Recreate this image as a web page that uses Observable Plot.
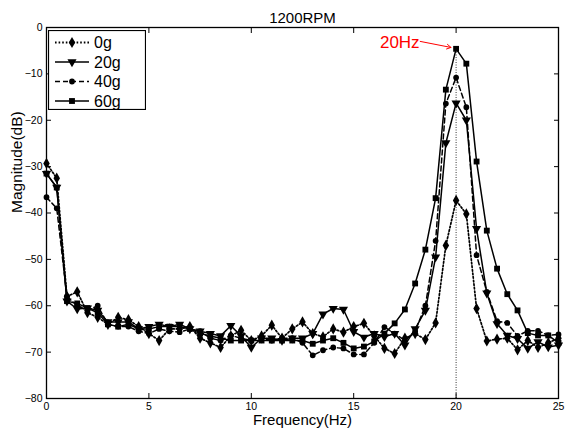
<!DOCTYPE html>
<html><head><meta charset="utf-8">
<script src="https://cdn.jsdelivr.net/npm/d3@7"></script>
<script src="https://cdn.jsdelivr.net/npm/@observablehq/plot@0.6"></script>
<style>
body{margin:0;background:#fff;font-family:Arial,"Liberation Sans",sans-serif;}
#wrap{position:relative;width:579px;height:434px;}
#legend{position:absolute;left:48px;top:30px;}
</style></head><body><div id="wrap"><div id="chart"></div><div id="legend"></div></div>
<script>
const title = "1200RPM";
const xLabel = "Frequency(Hz)";
const yLabel = "Magnitude(dB)";
const xTicks = [0, 5, 10, 15, 20, 25];
const yTicks = [-80, -70, -60, -50, -40, -30, -20, -10, 0];
const seriesNames = ["0g", "20g", "40g", "60g"];
const freq = [0,0.5,1,1.5,2,2.5,3,3.5,4,4.5,5,5.5,6,6.5,7,7.5,8,8.5,9,9.5,10,10.5,11,11.5,12,12.5,13,13.5,14,14.5,15,15.5,16,16.5,17,17.5,18,18.5,19,19.5,20,20.5,21,21.5,22,22.5,23,23.5,24,24.5,25];
const mag0g = [-29.3,-32.5,-58,-57,-61.5,-62.5,-64,-62.5,-63,-64.5,-66,-67.5,-65,-65,-64.5,-67,-68,-69,-66.5,-65.3,-67.5,-66.5,-64.2,-67,-65,-63.5,-66,-66.7,-65,-65.7,-64.5,-63.8,-66.5,-69.2,-70.3,-67,-66,-67.3,-63.7,-47,-37.3,-40.2,-60.6,-67.6,-67.2,-67,-69.5,-67.5,-69,-68,-67];
const mag20g = [-31.5,-34.5,-59,-60.7,-60.5,-61,-63.5,-63.5,-63.5,-65,-64.5,-64,-64.5,-64,-65,-65.5,-66,-66.5,-64.3,-66.5,-69,-67,-67,-67.5,-67,-67,-66,-61.8,-60.6,-60.8,-65.6,-66.8,-66,-66.7,-66,-68.5,-65,-61,-49.5,-24.9,-16.3,-20,-43.4,-57.3,-63.9,-66.4,-67.1,-69.2,-67.8,-68.9,-68.5];
const mag40g = [-36.6,-39,-58,-60,-61,-60,-64,-64.5,-64.5,-65.5,-66,-65,-65.5,-65.7,-65,-65.5,-67,-67.5,-66.4,-67,-67.5,-67,-67.5,-67,-67,-68,-70.7,-69.6,-69,-69.2,-70.5,-70.5,-68,-64.6,-66,-67.5,-65.5,-60,-46,-16.4,-10.8,-17.2,-49.1,-57,-63.3,-63.7,-66.5,-65.4,-65.4,-66.4,-66.2];
const mag60g = [-31.5,-34.5,-59,-59.5,-60.5,-61.5,-64,-64.5,-64,-65,-65,-64.5,-64.5,-64.5,-65,-66,-66.5,-67,-67.5,-67.5,-67.5,-67.5,-67.5,-67.5,-67.5,-67.5,-68.2,-67.5,-67,-68,-69.2,-68.8,-67.7,-66,-63.8,-60.8,-55.2,-47.9,-36.8,-13.4,-4.6,-7.8,-28.9,-43.8,-52,-57.5,-61,-65.9,-66.4,-66.4,-68];
const peakFreq = [20];
const annotText = ["20Hz"];
const annotPos = [{x: 17.25, y: -3.2}];
const arrowSeg = [{x1: 18.25, y1: -3.0, x2: 19.75, y2: -4.3}];

const styles = {
  "0g":  {dash: "1.6,2", symbol: "diamond", rotate: 0, r: 3.4},
  "20g": {dash: null, symbol: "triangle", rotate: 180, r: 3.4},
  "40g": {dash: "5,3", symbol: "circle", rotate: 0, r: 2.9},
  "60g": {dash: null, symbol: "square", rotate: 0, r: 3.3}
};
const allMags = {"0g": mag0g, "20g": mag20g, "40g": mag40g, "60g": mag60g};
const rows = [];
seriesNames.forEach(s => allMags[s].forEach((v, i) => rows.push({f: freq[i], db: v, s})));
const peakRows = peakFreq.map(f => ({f, top: d3.max(seriesNames, s => allMags[s][freq.indexOf(f)])}));

const marks = [
  Plot.ruleX(peakRows, {x: "f", y1: -80, y2: "top", stroke: "#000", strokeWidth: 0.8, strokeDasharray: "1,1.5"})
];
seriesNames.forEach(s => {
  const st = styles[s];
  const data = rows.filter(d => d.s === s);
  marks.push(Plot.line(data, {x: "f", y: "db", stroke: "#000", strokeWidth: s === "0g" ? 1.7 : 1.5, strokeDasharray: st.dash}));
  marks.push(Plot.dot(data, {x: "f", y: "db", symbol: () => st.symbol, fill: "#000", stroke: "none", r: st.r, rotate: st.rotate}));
});
marks.push(
  Plot.frame({stroke: "#000", strokeWidth: 1.3}),
  Plot.axisX({anchor: "bottom", ticks: xTicks, tickSize: 0, tickPadding: 4, fontSize: 10.5, label: null}),
  Plot.axisY({anchor: "left", ticks: yTicks, tickSize: 0, tickPadding: 4, fontSize: 10.5, label: null}),
  Plot.axisX({anchor: "bottom", ticks: xTicks, tickSize: -5, tickFormat: () => "", label: null}),
  Plot.axisX({anchor: "top", ticks: xTicks, tickSize: -5, tickFormat: () => "", label: null}),
  Plot.axisY({anchor: "left", ticks: yTicks, tickSize: -5, tickFormat: () => "", label: null}),
  Plot.axisY({anchor: "right", ticks: yTicks, tickSize: -5, tickFormat: () => "", label: null}),
  Plot.text([title], {frameAnchor: "top", dy: -15, fontSize: 15, fill: "#000"}),
  Plot.text([xLabel], {frameAnchor: "bottom", dy: 26.5, fontSize: 15, fill: "#000"}),
  Plot.text([yLabel], {frameAnchor: "left", dx: -29, rotate: -90, fontSize: 15.5, fill: "#000"}),
  Plot.arrow(arrowSeg, {x1: "x1", y1: "y1", x2: "x2", y2: "y2", stroke: "#ff0000", strokeWidth: 1, headLength: 7}),
  Plot.text(annotPos, {x: "x", y: "y", text: () => annotText[0], fill: "#ff0000", fontSize: 17})
);

const chart = Plot.plot({
  width: 579, height: 434,
  marginLeft: 46, marginRight: 21, marginTop: 27, marginBottom: 36,
  x: {domain: [0, 25]},
  y: {domain: [-80, 0]},
  style: {fontFamily: "Arial, 'Liberation Sans', sans-serif", color: "#000", background: "#fff", overflow: "visible"},
  marks
});
document.getElementById("chart").appendChild(chart);

// legend
const lw = 98, lh = 80;
const lsvg = d3.select("#legend").append("svg").attr("width", lw).attr("height", lh)
  .style("font-family", "Arial, 'Liberation Sans', sans-serif");
lsvg.append("rect").attr("x", 0.5).attr("y", 0.5).attr("width", lw - 1).attr("height", lh - 1)
  .attr("fill", "#fff").attr("stroke", "#000").attr("stroke-width", 1.2);
const symMap = {diamond: d3.symbolDiamond, triangle: d3.symbolTriangle, circle: d3.symbolCircle, square: d3.symbolSquare};
seriesNames.forEach((s, i) => {
  const st = styles[s];
  const cy = 12.5 + i * 19.5;
  const g = lsvg.append("g");
  g.append("line").attr("x1", 7).attr("x2", 41).attr("y1", cy).attr("y2", cy)
    .attr("stroke", "#000").attr("stroke-width", s === "0g" ? 1.8 : 1.5).attr("stroke-dasharray", st.dash);
  g.append("path").attr("d", d3.symbol(symMap[st.symbol], Math.PI * st.r * st.r)())
    .attr("transform", `translate(24,${cy}) rotate(${st.rotate})`).attr("fill", "#000");
  g.append("text").attr("x", 46).attr("y", cy).attr("dy", "0.36em").attr("font-size", 16).text(s);
});
</script></body></html>
